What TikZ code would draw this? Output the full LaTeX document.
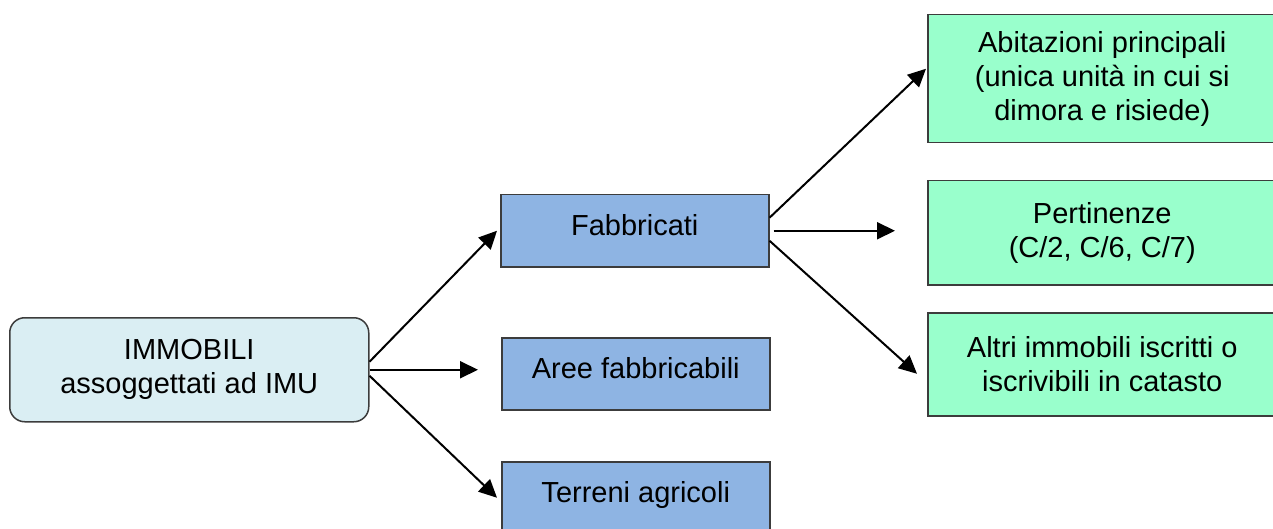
\documentclass[tikz,border=0pt]{standalone}
\usepackage{fontspec}
\setmainfont{Liberation Sans}
\usetikzlibrary{arrows.meta}
\definecolor{immofill}{RGB}{218,238,243}
\definecolor{bluefill}{RGB}{142,180,227}
\definecolor{greenfill}{RGB}{153,255,204}
\definecolor{border}{RGB}{60,60,60}
\tikzset{
  box/.style={draw=border, line width=1.5pt, inner sep=0pt, anchor=north west, align=center,
    font=\fontsize{29}{34}\selectfont},
  rootbox/.style={box, fill=immofill, rounded corners=15pt, minimum width=359pt, minimum height=104pt},
  bluebox/.style={box, fill=bluefill, minimum width=268pt, minimum height=72pt, text height=21pt, text depth=12pt},
  greenbox/.style={box, fill=greenfill, minimum width=349pt},
  arr/.style={line width=2pt, -{Triangle[length=18pt,width=17pt]}}
}
\begin{document}
\begin{tikzpicture}[x=1pt,y=-1pt]
\clip (0,0) rectangle (1273,529);
\fill[white] (0,0) rectangle (1273,529);
\node[rootbox] (immo) at (9,317) {IMMOBILI\\assoggettati ad IMU};
\node[bluebox] (fab) at (500,194) {Fabbricati};
\node[bluebox] (aree) at (501,337) {Aree fabbricabili};
\node[bluebox] (terr) at (501,461) {Terreni agricoli};
\node[greenbox, minimum height=128pt] (abit) at (927,14) {Abitazioni principali\\(unica unità in cui si\\dimora e risiede)};
\node[greenbox, minimum height=104pt] (pert) at (927,180) {Pertinenze\\(C/2, C/6, C/7)};
\node[greenbox, minimum height=103pt] (altri) at (927,312) {Altri immobili iscritti o\\iscrivibili in catasto};
\draw[arr] ([yshift=8pt]immo.east) -- ([xshift=-3pt]fab.west);
\draw[arr, shorten >=23pt] (immo.east) -- (aree.west |- immo.east);
\draw[arr] ([yshift=-6pt]immo.east) -- ([xshift=-4pt]terr.west);
\draw[arr] ([yshift=13pt]fab.east) -- ([xshift=-1pt,yshift=10pt]abit.west);
\draw[arr, shorten >=32pt] ([xshift=4pt]fab.east) -- (pert.west |- fab.east);
\draw[arr] ([yshift=-10pt]fab.east) -- ([xshift=-10pt,yshift=-9.5pt]altri.west);
\end{tikzpicture}
\end{document}
